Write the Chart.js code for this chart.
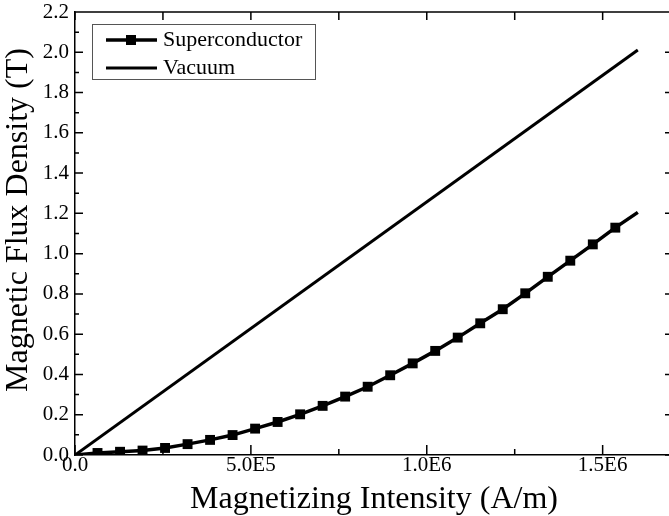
<!DOCTYPE html>
<html>
<head>
<meta charset="utf-8">
<script src="https://cdn.jsdelivr.net/npm/chart.js@4.4.1/dist/chart.umd.min.js"></script>
<style>
  html, body { margin: 0; padding: 0; background: #fff; }
  #wrap { width: 669px; height: 516px; overflow: hidden; }
</style>
</head>
<body>
<div id="wrap"><canvas id="bh" width="676" height="516"></canvas></div>
<script>
// H (A/m) sample points of the superconductor curve
const hField = [0, 64000, 128000, 192000, 256000, 320000, 384000, 448000, 512000, 576000,
  640000, 704000, 768000, 832000, 896000, 960000, 1024000, 1088000, 1152000, 1216000,
  1280000, 1344000, 1408000, 1472000, 1536000, 1600000];
// B (T)
const bSuper = [0, 0.010, 0.016, 0.022, 0.035, 0.054, 0.075, 0.099, 0.131, 0.164,
  0.202, 0.244, 0.290, 0.339, 0.396, 0.455, 0.517, 0.583, 0.654, 0.724,
  0.803, 0.885, 0.965, 1.046, 1.129, 1.205];
const hVacuum = [0, 1600000];
const bVacuum = [0, 2.011];

const xTickSteps = [0, 250000, 500000, 750000, 1000000, 1250000, 1500000];
const xTickValues = [0, 500000, 1000000, 1500000];
const xTickLabels = ['0.0', '5.0E5', '1.0E6', '1.5E6'];
const xTitle = 'Magnetizing Intensity (A/m)';
const yTitleText = 'Magnetic Flux Density (T)';

const family = "'Liberation Serif', 'Times New Roman', serif";
const isMajorY = v => Math.round(v * 10) % 2 === 0;

// inward ticks on all four sides + top frame line
const frameTicks = {
  id: 'frameTicks',
  afterDraw(chart) {
    const { ctx, chartArea: a, scales: { x, y } } = chart;
    ctx.save();
    ctx.strokeStyle = '#000';
    ctx.lineWidth = 1.5;
    ctx.beginPath();
    ctx.moveTo(a.left, a.top); ctx.lineTo(a.right, a.top);
    ctx.moveTo(a.right, a.top); ctx.lineTo(a.right, a.bottom);
    xTickSteps.forEach(v => {
      const px = x.getPixelForValue(v);
      const major = xTickValues.includes(v);
      ctx.moveTo(px, a.bottom); ctx.lineTo(px, a.bottom - (major ? 10 : 6));
      ctx.moveTo(px, a.top); ctx.lineTo(px, a.top + 8);
    });
    y.ticks.forEach(t => {
      const py = y.getPixelForValue(t.value);
      const len = isMajorY(t.value) ? 8 : 4;
      ctx.moveTo(a.left, py); ctx.lineTo(a.left + len, py);
      ctx.moveTo(a.right, py); ctx.lineTo(a.right - len, py);
    });
    ctx.stroke();
    ctx.restore();
  }
};

const legendBox = {
  id: 'legendBox',
  afterDraw(chart) {
    const { ctx } = chart;
    ctx.save();
    ctx.fillStyle = '#fff';
    ctx.fillRect(92, 24, 223, 55);
    ctx.strokeStyle = '#555';
    ctx.lineWidth = 1;
    ctx.strokeRect(92.5, 24.5, 223, 55);
    chart.data.datasets.forEach((ds, i) => {
      const cy = 40 + i * 28;
      ctx.strokeStyle = ds.borderColor;
      ctx.lineWidth = ds.borderWidth;
      ctx.beginPath(); ctx.moveTo(106, cy); ctx.lineTo(157, cy); ctx.stroke();
      if (ds.pointStyle === 'rect') {
        ctx.fillStyle = ds.backgroundColor;
        ctx.fillRect(126, cy - 5, 10, 10);
      }
      ctx.fillStyle = '#000';
      ctx.font = `22px ${family}`;
      ctx.textBaseline = 'middle';
      ctx.fillText(ds.label, 163, cy);
    });
    ctx.restore();
  }
};

const yTitle = {
  id: 'yTitle',
  afterDraw(chart) {
    const { ctx } = chart;
    ctx.save();
    ctx.translate(19, 220);
    ctx.rotate(-Math.PI / 2);
    ctx.font = `32px ${family}`;
    ctx.fillStyle = '#000';
    ctx.textAlign = 'center';
    ctx.textBaseline = 'middle';
    ctx.fillText(yTitleText, 0, 0);
    ctx.restore();
  }
};

new Chart(document.getElementById('bh'), {
  type: 'line',
  data: {
    datasets: [
      {
        label: 'Superconductor',
        data: hField.map((h, i) => ({ x: h, y: bSuper[i] })),
        borderColor: '#000', backgroundColor: '#000', borderWidth: 3.5,
        pointStyle: 'rect',
        pointRadius: hField.map((h, i) => (i === 0 || i === hField.length - 1) ? 0 : 7),
        pointBorderWidth: 0, tension: 0
      },
      {
        label: 'Vacuum',
        data: hVacuum.map((h, i) => ({ x: h, y: bVacuum[i] })),
        borderColor: '#000', backgroundColor: '#000', borderWidth: 3,
        pointRadius: 0, tension: 0
      }
    ]
  },
  options: {
    responsive: false,
    animation: false,
    layout: { padding: { top: 12, right: 3, left: 0, bottom: 0 } },
    plugins: { legend: { display: false }, tooltip: { enabled: false } },
    scales: {
      x: {
        type: 'linear', min: 0, max: 1700000,
        grid: { display: false, drawTicks: false },
        border: { display: true, color: '#000', width: 1.5 },
        afterBuildTicks: s => { s.ticks = xTickValues.map(v => ({ value: v })); },
        ticks: {
          autoSkip: false, maxRotation: 0, minRotation: 0, padding: 0,
          color: '#000', font: { family, size: 21, lineHeight: 1 },
          callback: v => { const i = xTickValues.indexOf(v); return i < 0 ? '' : xTickLabels[i]; }
        },
        title: { display: true, text: xTitle, color: '#000', font: { family, size: 32, lineHeight: 1 }, padding: { top: 0, bottom: 0 } },
        afterFit: s => { s.height = 61; s.paddingLeft = 0; s.paddingRight = 0; }
      },
      y: {
        min: 0, max: 2.2,
        grid: { display: false, drawTicks: false },
        border: { display: true, color: '#000', width: 1.5 },
        ticks: {
          stepSize: 0.1, autoSkip: false, padding: 6,
          color: '#000', font: { family, size: 21 },
          callback: v => isMajorY(v) ? v.toFixed(1) : ''
        },
        afterFit: s => { s.width = 75; s.paddingTop = 0; s.paddingBottom = 0; }
      }
    }
  },
  plugins: [frameTicks, legendBox, yTitle]
});
</script>
</body>
</html>
